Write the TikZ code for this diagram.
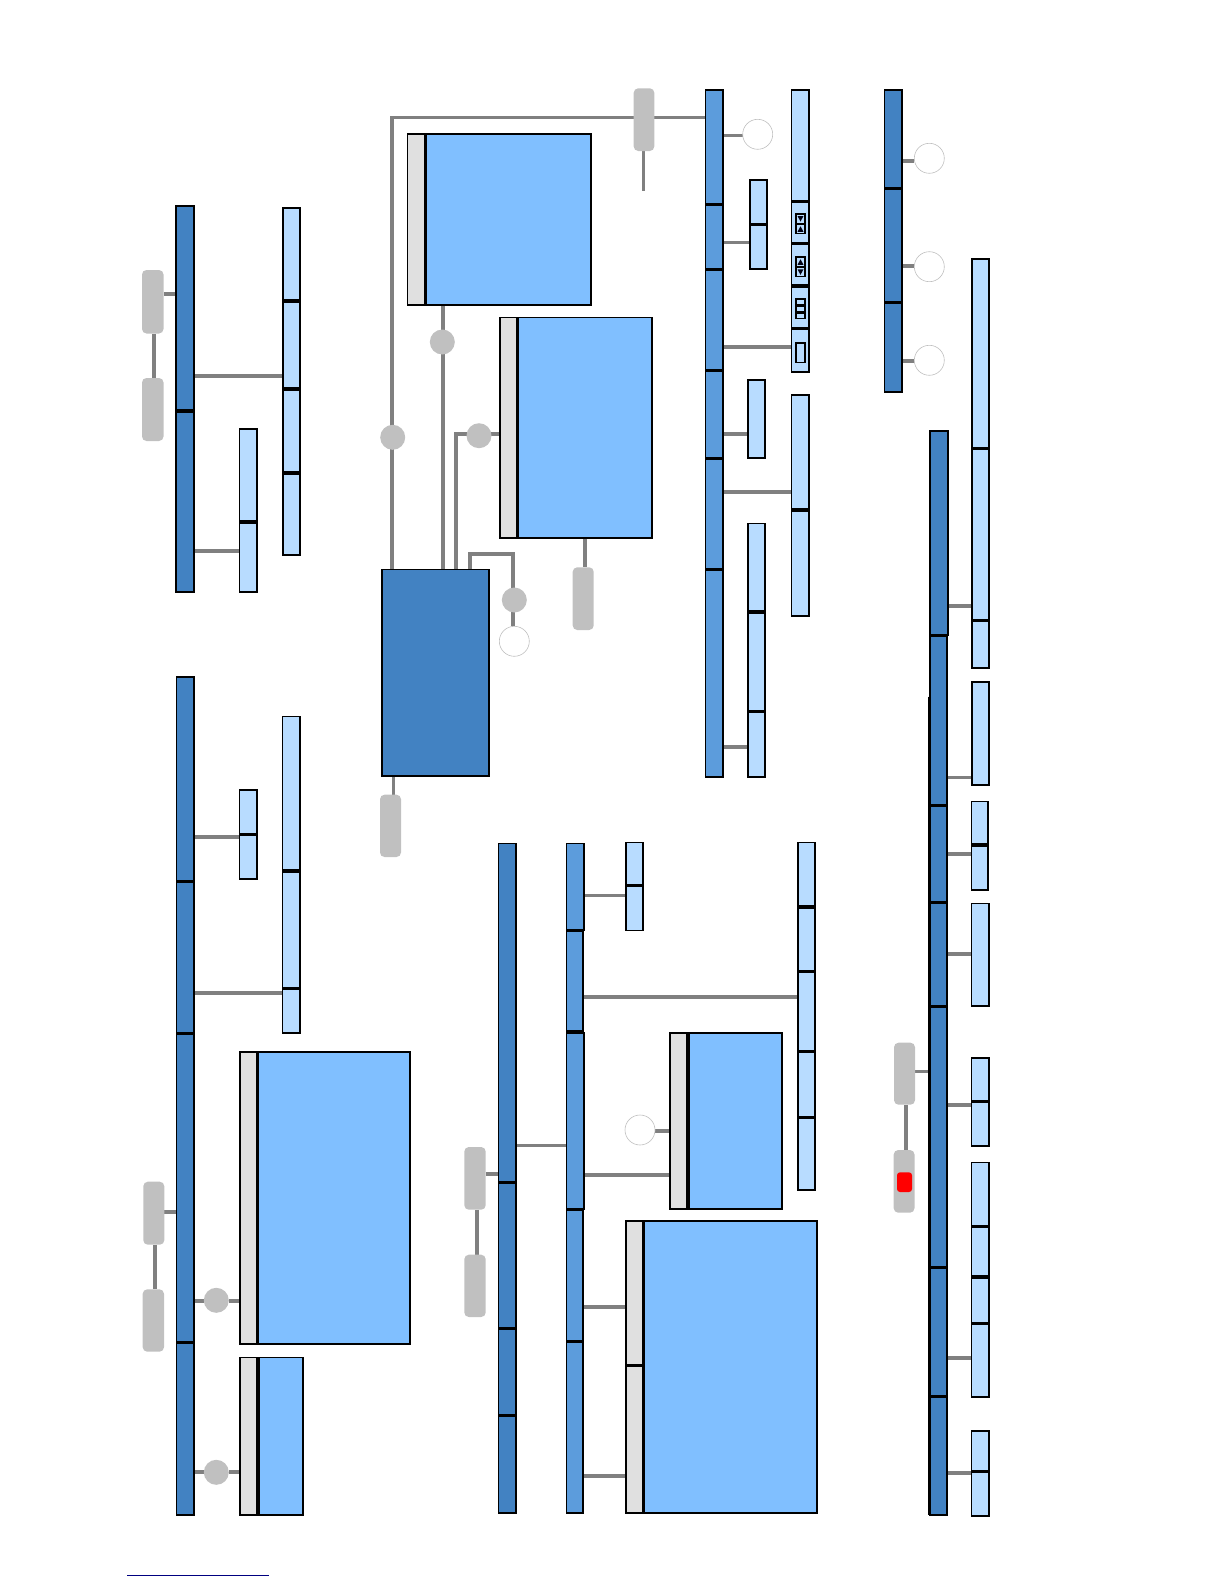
\documentclass[tikz,border=0pt]{standalone}
\usetikzlibrary{backgrounds}
\definecolor{cDark}{HTML}{4282C2}
\definecolor{cMid}{HTML}{5C9CDC}
\definecolor{cLight}{HTML}{B8DCFF}
\definecolor{cBody}{HTML}{80BFFF}
\definecolor{cHead}{HTML}{E0E0E0}
\definecolor{cPill}{HTML}{C0C0C0}
\definecolor{cConn}{HTML}{808080}
\definecolor{cFoot}{HTML}{000080}
\tikzset{
  boxbase/.style={draw=black,line width=1.8pt,inner sep=0pt,outer sep=0pt,rectangle},
  darkbar/.style={boxbase,fill=cDark},
  midbar/.style={boxbase,fill=cMid},
  lightbox/.style={boxbase,fill=cLight},
  bodybox/.style={boxbase,fill=cBody},
  headbox/.style={boxbase,fill=cHead},
  iconbox/.style={boxbase,fill=cLight,line width=1.2pt},
  pillbox/.style={rectangle,rounded corners=4.5pt,fill=cPill,inner sep=0pt,outer sep=0pt},
  redbox/.style={rectangle,rounded corners=3pt,fill=red,inner sep=0pt,outer sep=0pt},
  dotnode/.style={circle,fill=cPill,minimum size=25pt,inner sep=0pt,outer sep=0pt},
  ringnode/.style={circle,draw=cPill,fill=white,line width=.6pt,minimum size=30pt,inner sep=0pt,outer sep=0pt},
  conn/.style={draw=cConn,line width=3.6pt},
  tri/.style={fill=black!85!cFoot},
}
% style, name, x1, y1, x2, y2 (outer edges, in reference pixels)
\newcommand\bx[6]{%
  \pgfmathsetmacro\mycx{(#3+#5)/2}\pgfmathsetmacro\mycy{(#4+#6)/2}%
  \pgfmathsetmacro\myw{#5-#3-1.4}\pgfmathsetmacro\myh{#6-#4-1.4}%
  \node[#1,minimum width=\myw pt,minimum height=\myh pt] (#2) at (\mycx,\mycy) {};}
\newcommand\fx[6]{%
  \pgfmathsetmacro\mycx{(#3+#5)/2}\pgfmathsetmacro\mycy{(#4+#6)/2}%
  \pgfmathsetmacro\myw{#5-#3}\pgfmathsetmacro\myh{#6-#4}%
  \node[#1,minimum width=\myw pt,minimum height=\myh pt] (#2) at (\mycx,\mycy) {};}
\newcommand\hc[3]{\draw[conn] (#1 |- 0,#3) -- (#2 |- 0,#3);}
\newcommand\vc[3]{\draw[conn] (#1 -| #3,0) -- (#2 -| #3,0);}
\begin{document}
\begin{tikzpicture}[x=1pt,y=-1pt]
\useasboundingbox (0,0) rectangle (1224,1584);

% --- group A (upper left)
\bx{darkbar}{a1}{175.5}{205}{194.5}{411}
\bx{darkbar}{a2}{175.5}{411}{194.5}{593}
\bx{lightbox}{aa1}{282.5}{207}{300.5}{301}
\bx{lightbox}{aa2}{282.5}{301}{300.5}{389}
\bx{lightbox}{aa3}{282.5}{389}{300.5}{473}
\bx{lightbox}{aa4}{282.5}{473}{300.5}{556}
\bx{lightbox}{ab1}{238.7}{428}{257.5}{522}
\bx{lightbox}{ab2}{238.7}{522}{257.5}{593}
\fx{pillbox}{ap1}{142}{270}{163.5}{333.5}
\fx{pillbox}{ap2}{142}{378}{163.5}{441}

% --- group B (centre)
\bx{darkbar}{big}{381}{568.7}{489.5}{777}
\bx{headbox}{bhead}{406.7}{133.5}{425.7}{305.5}
\bx{bodybox}{bbody}{425.7}{133.5}{591.5}{305.5}
\bx{headbox}{chead}{499.3}{316.7}{517.7}{538.5}
\bx{bodybox}{cbody}{517.7}{316.7}{653}{538.5}
\node[dotnode] (bd1) at (392.7,437.3) {};
\node[dotnode] (bd2) at (442.3,342) {};
\node[dotnode] (bd3) at (479,435.7) {};
\node[dotnode] (bd4) at (514.3,600) {};
\node[ringnode] (br1) at (514.3,641.3) {};
\fx{pillbox}{bp1}{572.7}{567.3}{593.7}{630}
\fx{pillbox}{bp2}{380}{794.7}{401}{857}
\fx{pillbox}{bp3}{633.7}{88.3}{654.3}{151}
\coordinate (bpend) at (643.3,190.7);

% --- group D (upper right)
\bx{midbar}{d1}{704.7}{89.3}{723.5}{204.3}
\bx{midbar}{d2}{704.7}{204.3}{723.5}{269.3}
\bx{midbar}{d3}{704.7}{269.3}{723.5}{370.7}
\bx{midbar}{d4}{704.7}{370.7}{723.5}{458.3}
\bx{midbar}{d5}{704.7}{458.3}{723.5}{569.3}
\bx{midbar}{d6}{704.7}{569.3}{723.5}{777.5}
\node[ringnode] (dr1) at (757.7,134.3) {};
\bx{lightbox}{da1}{749.3}{179.3}{767.7}{224.3}
\bx{lightbox}{da2}{749.3}{224.3}{767.7}{269.5}
\bx{lightbox}{ds1}{790.7}{89.3}{809.3}{201.3}
\bx{lightbox}{ds2}{790.7}{201.3}{809.3}{243.3}
\bx{lightbox}{ds3}{790.7}{243.3}{809.3}{286}
\bx{lightbox}{ds4}{790.7}{286}{809.3}{328.3}
\bx{lightbox}{ds5}{790.7}{328.3}{809.3}{372.5}
\bx{iconbox}{di1}{795.3}{213.3}{805.7}{223.8}
\bx{iconbox}{di2}{795.3}{223.8}{805.7}{234.3}
\bx{iconbox}{di3}{795.3}{256.3}{805.7}{266.8}
\bx{iconbox}{di4}{795.3}{266.8}{805.7}{277.3}
\bx{iconbox}{di5}{795.3}{298.3}{805.7}{305.3}
\bx{iconbox}{di6}{795.3}{305.3}{805.7}{312.3}
\bx{iconbox}{di7}{795.3}{312.3}{805.7}{319.3}
\bx{iconbox}{di8}{795.3}{342.3}{805.7}{363.5}
\fill[tri] (797.5,216) -- (803.5,216) -- (800.5,221.5) -- cycle;
\fill[tri] (797.5,231.8) -- (803.5,231.8) -- (800.5,226.3) -- cycle;
\fill[tri] (797.5,264.8) -- (803.5,264.8) -- (800.5,259.3) -- cycle;
\fill[tri] (797.5,269.3) -- (803.5,269.3) -- (800.5,274.8) -- cycle;
\bx{lightbox}{db1}{747.3}{379.3}{765.7}{458.5}
\bx{lightbox}{dc1}{790.7}{394.3}{809.3}{510}
\bx{lightbox}{dc2}{790.7}{510}{809.3}{616.3}
\bx{lightbox}{dd1}{747.3}{522.7}{765.7}{612}
\bx{lightbox}{dd2}{747.3}{612}{765.7}{711.3}
\bx{lightbox}{dd3}{747.3}{711.3}{765.7}{777.3}

% --- group E (top far right)
\bx{darkbar}{e1}{883.7}{89.3}{902.5}{188.7}
\bx{darkbar}{e2}{883.7}{188.7}{902.5}{302.3}
\bx{darkbar}{e3}{883.7}{302.3}{902.5}{392.5}
\node[ringnode] (er1) at (929.3,158.3) {};
\node[ringnode] (er2) at (929.3,266.7) {};
\node[ringnode] (er3) at (929.3,360.3) {};

% --- group F (right)
\draw[black,line width=1pt] (928.8,696.7) -- (928.8,1515);
\bx{darkbar}{f1}{929.3}{430.3}{948.7}{635.7}
\bx{darkbar}{f2}{929.3}{635.7}{948}{805.7}
\bx{darkbar}{f3}{929.3}{805.7}{948}{902.7}
\bx{darkbar}{f4}{929.3}{902.7}{948}{1006.7}
\bx{darkbar}{f5}{929.3}{1006.7}{948}{1267.3}
\bx{darkbar}{f6}{929.3}{1267.3}{948}{1396.3}
\bx{darkbar}{f7}{929.3}{1396.3}{948}{1515.3}
\bx{lightbox}{g1}{971}{258.3}{989.3}{448.3}
\bx{lightbox}{g2}{971}{448.3}{989.3}{620.3}
\bx{lightbox}{g3}{971}{620.3}{989.3}{668.5}
\bx{lightbox}{g4}{971}{681.3}{989.3}{785.5}
\bx{lightbox}{g5}{970.7}{800.7}{988.7}{845}
\bx{lightbox}{g6}{970.7}{845}{988.7}{890.3}
\bx{lightbox}{g7}{970.7}{902.7}{989.3}{1006.7}
\bx{lightbox}{g8}{970.7}{1057.3}{989.3}{1101.7}
\bx{lightbox}{g9}{970.7}{1101.7}{989.3}{1147}
\bx{lightbox}{g10}{970.7}{1161.7}{989.3}{1226.7}
\bx{lightbox}{g11}{970.7}{1226.7}{989.3}{1277}
\bx{lightbox}{g12}{970.7}{1277}{989.3}{1323.7}
\bx{lightbox}{g13}{970.7}{1323.7}{989.3}{1397.5}
\bx{lightbox}{g14}{970.7}{1430.3}{989.3}{1471.7}
\bx{lightbox}{g15}{970.7}{1471.7}{989.3}{1516.3}
\fx{pillbox}{fp1}{894}{1042.7}{915}{1104.7}
\fx{pillbox}{fp2}{893.7}{1150}{914.5}{1212.7}
\fx{redbox}{fred}{897}{1172.3}{912}{1192}

% --- group H/I (middle bottom)
\bx{darkbar}{h1}{497.7}{842.7}{516.7}{1182.7}
\bx{darkbar}{h2}{497.7}{1182.7}{516.7}{1328.3}
\bx{darkbar}{h3}{497.7}{1328.3}{516.7}{1415.3}
\bx{darkbar}{h4}{497.7}{1415.3}{516.7}{1513.5}
\bx{midbar}{i1}{565.7}{842.7}{584.5}{930.7}
\bx{midbar}{i2}{565.7}{930.7}{584}{1032}
\bx{midbar}{i3}{565.7}{1032}{584.5}{1209.3}
\bx{midbar}{i4}{565.7}{1209.3}{583.5}{1341.3}
\bx{midbar}{i5}{565.7}{1341.3}{583.5}{1513.5}
\bx{lightbox}{ia1}{625.3}{841.7}{643.7}{885.7}
\bx{lightbox}{ia2}{625.3}{885.7}{643.7}{931.2}
\bx{lightbox}{ic1}{797.3}{841.7}{815.7}{907}
\bx{lightbox}{ic2}{797.3}{907}{815.7}{971.3}
\bx{lightbox}{ic3}{797.3}{971.3}{815.7}{1051.7}
\bx{lightbox}{ic4}{797.3}{1051.7}{815.7}{1117.7}
\bx{lightbox}{ic5}{797.3}{1117.7}{815.7}{1190.5}
\bx{headbox}{ihead}{669.3}{1032.3}{688}{1209.5}
\bx{bodybox}{ibody}{688}{1032.3}{782.7}{1209.5}
\node[ringnode] (ir1) at (640,1130) {};
\bx{headbox}{khead1}{625.3}{1220}{643.7}{1365.7}
\bx{headbox}{khead2}{625.3}{1365.7}{643.7}{1513.5}
\bx{bodybox}{kbody}{643.7}{1220}{818}{1513.5}
\fx{pillbox}{ip1}{464.3}{1147}{485.7}{1209.7}
\fx{pillbox}{ip2}{464.3}{1254.7}{485.7}{1317}

% --- group J (lower left)
\bx{darkbar}{j1}{175.7}{676.3}{194.5}{881.7}
\bx{darkbar}{j2}{175.7}{881.7}{194.5}{1033.3}
\bx{darkbar}{j3}{175.7}{1033.3}{194.5}{1342.7}
\bx{darkbar}{j4}{175.7}{1342.7}{194.5}{1515.3}
\bx{lightbox}{ja1}{238.7}{789.3}{257.7}{834.3}
\bx{lightbox}{ja2}{238.7}{834.3}{257.7}{879.5}
\bx{lightbox}{jc1}{281.7}{715.7}{300.3}{871}
\bx{lightbox}{jc2}{281.7}{871}{300.3}{988.3}
\bx{lightbox}{jc3}{281.7}{988.3}{300.3}{1033.5}
\bx{headbox}{jhead}{239.3}{1051.3}{257.7}{1344.5}
\bx{bodybox}{jbody}{257.7}{1051.3}{410.7}{1344.5}
\bx{headbox}{lhead}{239.3}{1356.7}{258}{1515.3}
\bx{bodybox}{lbody}{258}{1356.7}{303.5}{1515.3}
\node[dotnode] (jd1) at (216.3,1300.3) {};
\node[dotnode] (jd2) at (216.3,1472.3) {};
\fx{pillbox}{jp1}{143.3}{1181.7}{164.3}{1244.7}
\fx{pillbox}{jp2}{142.7}{1289.3}{164}{1351.7}

% --- footer rule
\coordinate (footl) at (127.3,1575);
\coordinate (footr) at (269,1575);
\draw[cFoot,line width=1pt] (footl) -- (footr);

% --- connectors
\begin{scope}[on background layer]
\hc{ap1.east}{a1.west}{293.7}
\vc{ap1.south}{ap2.north}{154}
\hc{a1.east}{aa2.west}{375.7}
\hc{a2.east}{ab2.west}{550.7}

\draw[conn] (big.north -| 391.7,0) |- (d1.west |- 0,117.7);
\vc{bbody.south}{big.north}{443}
\draw[conn] (big.north -| 456,0) |- (chead.west |- 0,434);
\draw[conn] (big.north -| 470,0) |- (512.7,554) -- (br1.north -| 512.7,0);
\draw[conn,line width=2.5pt] (bp3.south -| bpend) -- (bpend);
\vc{cbody.south}{bp1.north}{585}
\vc{big.south}{bp2.north}{393.3}

\hc{d1.east}{dr1.west}{135.7}
\hc{d2.east}{da2.west}{242.3}
\hc{d3.east}{ds5.west}{347}
\hc{d4.east}{db1.west}{433.7}
\hc{d5.east}{dc1.west}{492}
\hc{d6.east}{dd3.west}{747}

\hc{e1.east}{er1.west}{160.7}
\hc{e2.east}{er2.west}{265.7}
\hc{e3.east}{er3.west}{360.7}

\hc{f1.east}{g2.west}{606}
\hc{f2.east}{g4.west}{777.3}
\hc{f3.east}{g6.west}{854}
\hc{f4.east}{g7.west}{953.7}
\hc{f5.east}{g9.west}{1105}
\hc{f6.east}{g13.west}{1357.7}
\hc{f7.east}{g15.west}{1473}
\hc{fp1.east}{f5.west}{1071.3}
\vc{fp1.south}{fp2.north}{905.7}

\hc{h1.east}{i3.west}{1145.3}
\hc{ip1.east}{h1.west}{1174}
\vc{ip1.south}{ip2.north}{476.7}
\hc{i1.east}{ia2.west}{895.3}
\hc{i2.east}{ic3.west}{996.7}
\hc{i3.east}{ihead.west}{1175}
\hc{ir1.east}{ihead.west}{1131}
\hc{i4.east}{khead1.west}{1306.7}
\hc{i5.east}{khead2.west}{1476}

\hc{jp1.east}{j3.west}{1211.7}
\vc{jp1.south}{jp2.north}{154.7}
\hc{j1.east}{ja2.west}{837}
\hc{j2.east}{jc3.west}{992.7}
\hc{j3.east}{jd1.west}{1300.7}
\hc{jd1.east}{jhead.west}{1300.7}
\hc{j4.east}{jd2.west}{1471.7}
\hc{jd2.east}{lhead.west}{1471.7}
\end{scope}
\end{tikzpicture}
\end{document}
